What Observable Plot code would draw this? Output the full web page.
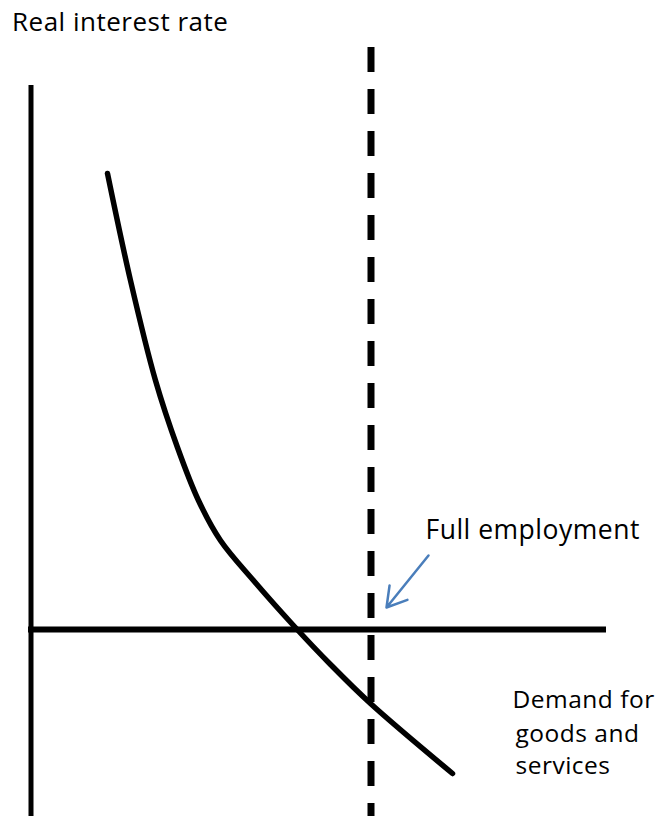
<!DOCTYPE html>
<html>
<head>
<meta charset="utf-8">
<script src="https://cdn.jsdelivr.net/npm/d3@7"></script>
<script src="https://cdn.jsdelivr.net/npm/@observablehq/plot@0.6"></script>
<style>
  html, body { margin: 0; padding: 0; background: #fff; }
  #chart svg { display: block; }
</style>
</head>
<body>
<div id="chart"></div>
<script>
// Demand curve for goods and services (quantity vs real interest rate), abstract units
const demandQuantity = [76.5, 99.5, 124.5, 146.5, 167.5, 189.5, 222.5, 262.5, 299.5, 339.5, 421.5];
const demandRate     = [456, 349, 249, 182, 129, 89, 49, 4, -35, -74, -144];
const fullEmployment = [340];
const labels = ["Real interest rate", "Full employment", "Demand for", "goods and", "services"];

const demand = demandQuantity.map((q, i) => ({q, r: demandRate[i]}));

const chart = Plot.plot({
  width: 664,
  height: 816,
  margin: 0,
  x: {domain: [-30.5, 633.5], axis: null},
  y: {domain: [-187, 629], axis: null},
  style: {fontFamily: "'Open Sans', sans-serif", background: "#fff", letterSpacing: "0.5px"},
  marks: [
    // vertical axis
    Plot.ruleX([0], {y1: -187, y2: 544, stroke: "#000", strokeWidth: 5}),
    // horizontal axis
    Plot.ruleY([0], {x1: -2.5, x2: 575.5, stroke: "#000", strokeWidth: 6}),
    // full employment dashed line
    Plot.ruleX(fullEmployment, {y1: 582, y2: -187, stroke: "#000", strokeWidth: 7, strokeDasharray: "25,17"}),
    // demand curve
    Plot.line(demand, {x: "q", y: "r", curve: "catmull-rom", stroke: "#000", strokeWidth: 5.5}),
    // arrow to full employment
    Plot.arrow([{x1: 397.5, y1: 74, x2: 355.5, y2: 22}], {x1: "x1", y1: "y1", x2: "x2", y2: "y2", stroke: "#4a7ebb", strokeWidth: 2.5, headLength: 30, headAngle: 62}),
    // labels
    Plot.text([labels[0]], {x: -19, y: 629 - 30 + 0.32 * 26, text: d => d, textAnchor: "start", lineAnchor: "middle", fontSize: 26, fill: "#000"}),
    Plot.text([labels[1]], {x: 394.5, y: 629 - 538 + 0.32 * 26.5, text: d => d, textAnchor: "start", lineAnchor: "middle", fontSize: 26.5, fill: "#000"}),
    Plot.text([labels[2]], {x: 481.5, y: 629 - 707 + 0.32 * 24.5, text: d => d, textAnchor: "start", lineAnchor: "middle", fontSize: 24.5, fill: "#000"}),
    Plot.text([labels[3]], {x: 484.5, y: 629 - 741 + 0.32 * 24.5, text: d => d, textAnchor: "start", lineAnchor: "middle", fontSize: 24.5, fill: "#000"}),
    Plot.text([labels[4]], {x: 484.5, y: 629 - 773 + 0.32 * 24.5, text: d => d, textAnchor: "start", lineAnchor: "middle", fontSize: 24.5, fill: "#000"})
  ]
});
document.getElementById("chart").appendChild(chart);
</script>
</body>
</html>
